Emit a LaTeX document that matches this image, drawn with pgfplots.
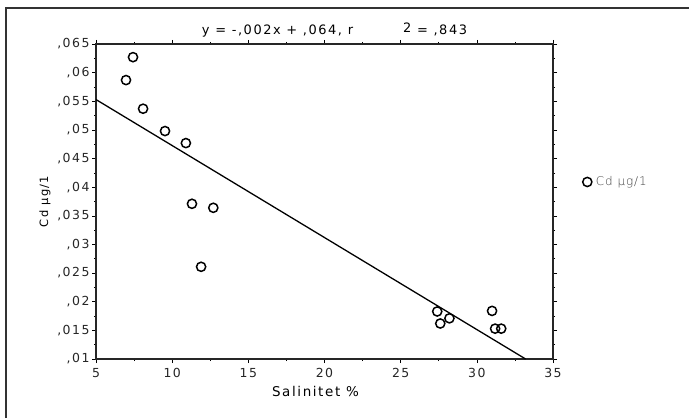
\documentclass[border=0pt]{standalone}
\usepackage{pgfplots}
\pgfplotsset{compat=1.18}
\usepackage{fontspec}
\setmainfont[LetterSpace=12]{DejaVu Sans}
\newfontfamily\legfont[LetterSpace=8]{DejaVu Sans ExtraLight}
\begin{document}
\begin{tikzpicture}[x=1bp,y=1bp]
\useasboundingbox (0,0) rectangle (689,418);
\draw[line width=1.2pt,black!80] (6,0) -- (6,410) -- (689,410);
\begin{axis}[
  at={(96bp,59bp)}, anchor=south west,
  scale only axis, width=457bp, height=315bp,
  xmin=5, xmax=35, ymin=0.01, ymax=0.065,
  scaled y ticks=false,
  xtick={5,10,...,35},
  ytick={0.01,0.015,0.02,0.025,0.03,0.035,0.04,0.045,0.05,0.055,0.06,0.065},
  yticklabels={{,01},{,015},{,02},{,025},{,03},{,035},{,04},{,045},{,05},{,055},{,06},{,065}},
  minor x tick num=1, minor y tick num=1,
  tick align=outside,
  major tick length=4bp, minor tick length=2bp,
  tick style={black, line width=0.6pt},
  axis line style={line width=1.2pt, black!85},
  /pgf/number format/assume math mode=true,
  ticklabel style={font=\fontsize{12.5}{13}\selectfont, text=black!85},
  yticklabel style={xshift=1bp},
  xticklabel style={yshift=-2bp},
  xlabel={Salinitet \%},
  xlabel style={font=\fontsize{13.5}{14}\selectfont, yshift=-1bp, xshift=-9bp},
  ylabel={Cd µg/1},
  ylabel style={font=\fontsize{11.5}{12}\selectfont, yshift=0bp},
  title={y = -,002x + ,064, r\hspace{50bp}\raisebox{2.5bp}{2} = ,843},
  title style={font=\fontsize{13}{14}\selectfont, yshift=-3bp, xshift=10bp},
  legend style={at={(1.058,0.562)}, anchor=west, draw=none, fill=none,
    font=\fontsize{12}{13}\legfont, text=black!75,
    /tikz/every even column/.append style={column sep=0pt},
    nodes={inner xsep=4bp}},
  legend cell align=left,
]
\addplot[black, line width=1.3pt, forget plot] coordinates {(5,0.0553) (33.2,0.0100)};
\addplot[only marks, mark=o, mark size=4.6bp, mark options={line width=1.5pt, black}]
coordinates {
(7.43,0.0627)
(6.97,0.0587)
(8.09,0.0537)
(9.53,0.0498)
(10.9,0.0477)
(11.3,0.0371)
(12.7,0.0364)
(11.9,0.0261)
(27.4,0.0183)
(27.6,0.0162)
(28.2,0.0171)
(31.0,0.0184)
(31.2,0.0153)
(31.6,0.0153)
};
\addlegendentry{Cd µg/1}
\end{axis}
\end{tikzpicture}
\end{document}
